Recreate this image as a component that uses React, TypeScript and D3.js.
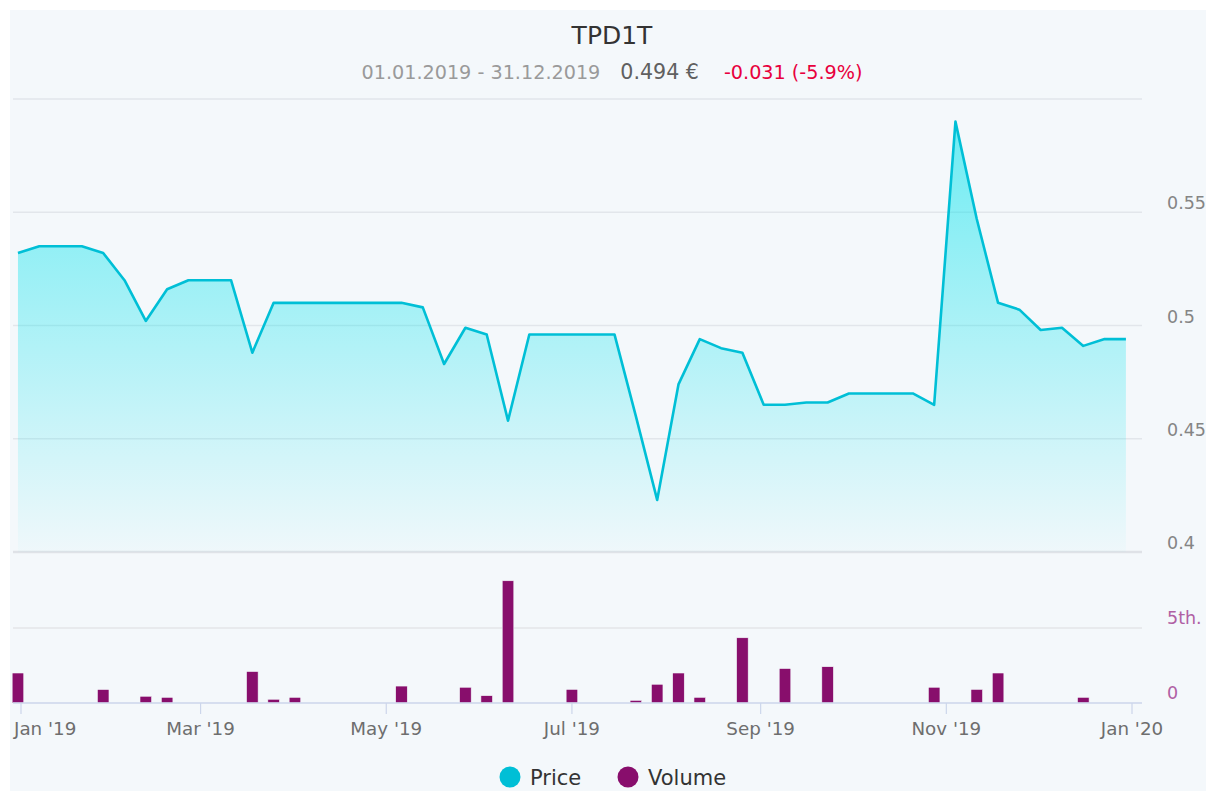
import React from "react";
import * as d3 from "d3";

const dates: string[] = [
  "2018-12-31", "2019-01-07", "2019-01-14", "2019-01-21", "2019-01-28",
  "2019-02-04", "2019-02-11", "2019-02-18", "2019-02-25",
  "2019-03-04", "2019-03-11", "2019-03-18", "2019-03-25",
  "2019-04-01", "2019-04-08", "2019-04-15", "2019-04-22", "2019-04-29",
  "2019-05-06", "2019-05-13", "2019-05-20", "2019-05-27",
  "2019-06-03", "2019-06-10", "2019-06-17", "2019-06-24",
  "2019-07-01", "2019-07-08", "2019-07-15", "2019-07-22", "2019-07-29",
  "2019-08-05", "2019-08-12", "2019-08-19", "2019-08-26",
  "2019-09-02", "2019-09-09", "2019-09-16", "2019-09-23", "2019-09-30",
  "2019-10-07", "2019-10-14", "2019-10-21", "2019-10-28",
  "2019-11-04", "2019-11-11", "2019-11-18", "2019-11-25",
  "2019-12-02", "2019-12-09", "2019-12-16", "2019-12-23", "2019-12-30",
];

const prices: number[] = [
  0.532, 0.535, 0.535, 0.535, 0.532, 0.52, 0.502, 0.516, 0.52, 0.52, 0.52,
  0.488, 0.51, 0.51, 0.51, 0.51, 0.51, 0.51, 0.51, 0.508, 0.483, 0.499,
  0.496, 0.458, 0.496, 0.496, 0.496, 0.496, 0.496, 0.46, 0.423, 0.474,
  0.494, 0.49, 0.488, 0.465, 0.465, 0.466, 0.466, 0.47, 0.47, 0.47, 0.47,
  0.465, 0.59, 0.547, 0.51, 0.507, 0.498, 0.499, 0.491, 0.494, 0.494,
];

const volumes: number[] = [
  2000, 0, 0, 0, 900, 0, 450, 380, 0, 0, 0,
  2100, 250, 380, 0, 0, 0, 0, 1130, 0, 0, 1050,
  490, 8150, 0, 0, 910, 0, 0, 180, 1250, 2000,
  380, 0, 4350, 0, 2300, 0, 2420, 0, 0, 0, 0,
  1050, 0, 910, 2000, 0, 0, 0, 380, 0, 0,
];

const priceTicks: number[] = [0.4, 0.45, 0.5, 0.55];
const priceGrid: number[] = [0.4, 0.45, 0.5, 0.55, 0.6];
const volumeTicks: number[] = [0, 5000];
const volumeTickLabels: string[] = ["0", "5th."];
const monthTicks: string[] = ["2019-01-01", "2019-03-01", "2019-05-01", "2019-07-01", "2019-09-01", "2019-11-01", "2020-01-01"];
const monthLabels: string[] = ["Jan '19", "Mar '19", "May '19", "Jul '19", "Sep '19", "Nov '19", "Jan '20"];

const title = "TPD1T";
const subDate = "01.01.2019 - 31.12.2019";
const subPrice = "0.494 €";
const subChange = "-0.031 (-5.9%)";
const legendItems = [
  { name: "Price", color: "#00bfd6" },
  { name: "Volume", color: "#880e6c" },
];

const FONT = "'DejaVu Sans', Verdana, sans-serif";

export default function App() {
  const parse = d3.utcParse("%Y-%m-%d");
  const x = d3
    .scaleUtc()
    .domain([parse("2019-01-01")!, parse("2020-01-01")!])
    .range([21, 1132]);
  const yP = d3.scaleLinear().domain([0.4, 0.6]).range([552, 99]);
  const yV = d3.scaleLinear().domain([0, 10000]).range([703, 553]);

  const pts = dates.map((d, i) => ({ date: parse(d)!, p: prices[i], v: volumes[i] }));

  const line = d3
    .line<any>()
    .x((d) => x(d.date))
    .y((d) => yP(d.p));
  const area = d3
    .area<any>()
    .x((d) => x(d.date))
    .y0(552)
    .y1((d) => yP(d.p));

  const plotLeft = 13;
  const plotRight = 1142;
  const barW = 11.6;

  return (
    <svg
      width={1206}
      height={791}
      style={{ position: "absolute", left: 0, top: 0 }}
      fontFamily={FONT}
    >
      <defs>
        <linearGradient id="pg" x1="0" y1={99} x2="0" y2={552} gradientUnits="userSpaceOnUse">
          <stop offset="0" stopColor="#00e2ec" stopOpacity={0.58} />
          <stop offset="1" stopColor="#00e2ec" stopOpacity={0.02} />
        </linearGradient>
      </defs>
      <rect x={0} y={0} width={1206} height={791} fill="#ffffff" />
      <rect x={10} y={10} width={1196} height={781} fill="#f4f8fb" />

      <text x={612} y={44} textAnchor="middle" fontSize={25} fill="#333333">
        {title}
      </text>
      <text x={612} y={79} textAnchor="middle" fontSize={19.2}>
        <tspan fill="#9a9a9a">{subDate}</tspan>
        <tspan dx={20} fill="#606060" fontSize={20.6}>{subPrice}</tspan>
        <tspan dx={25} fill="#e8003d">{subChange}</tspan>
      </text>

      {priceGrid.map((t) => (
        <line
          key={"pg" + t}
          x1={plotLeft}
          x2={plotRight}
          y1={yP(t)}
          y2={yP(t)}
          stroke={t === 0.4 ? "#dfe2e7" : "#e2e6eb"}
          strokeWidth={t === 0.4 ? 2.5 : 1.3}
        />
      ))}
      {volumeTicks.filter((t) => t > 0).map((t) => (
        <line key={"vg" + t} x1={plotLeft} x2={plotRight} y1={yV(t)} y2={yV(t)} stroke="#e4e6e9" strokeWidth={1.3} />
      ))}

      <path d={area(pts) || ""} fill="url(#pg)" />
      <path d={line(pts) || ""} fill="none" stroke="#00bfd6" strokeWidth={2.6} strokeLinejoin="round" />

      {pts
        .filter((d) => d.v > 0)
        .map((d, i) => (
          <rect
            key={"b" + i}
            x={x(d.date) - barW / 2}
            y={yV(d.v)}
            width={barW}
            height={yV(0) - yV(d.v)}
            fill="#880e6c"
            stroke="#f4f8fb"
            strokeWidth={0.6}
          />
        ))}

      <line x1={plotLeft} x2={plotRight} y1={yV(0)} y2={yV(0)} stroke="#ccd6eb" strokeWidth={1.5} />

      {priceTicks.map((t) => (
        <text key={"pl" + t} x={1167} y={yP(t) - 3} fontSize={17.5} fill="#858585">
          {String(t)}
        </text>
      ))}
      {volumeTicks.map((t, i) => (
        <text key={"vl" + t} x={1167} y={yV(t) - 4} fontSize={17.5} fill="#b060a4">
          {volumeTickLabels[i]}
        </text>
      ))}

      {monthTicks.map((m, i) => {
        const xx = x(parse(m)!);
        return (
          <g key={"mt" + m}>
            <line x1={xx} x2={xx} y1={703} y2={714} stroke="#ccd6eb" strokeWidth={1.2} />
            <text
              x={i === 0 ? 14 : xx}
              y={735}
              textAnchor={i === 0 ? "start" : "middle"}
              fontSize={18.3}
              fill="#6e6e6e"
            >
              {monthLabels[i]}
            </text>
          </g>
        );
      })}

      {legendItems.map((it, i) => {
        const cx = i === 0 ? 510 : 628;
        return (
          <g key={it.name}>
            <circle cx={cx} cy={777} r={10.5} fill={it.color} />
            <text x={cx + 20} y={785} fontSize={21} fill="#333333">
              {it.name}
            </text>
          </g>
        );
      })}
    </svg>
  );
}
